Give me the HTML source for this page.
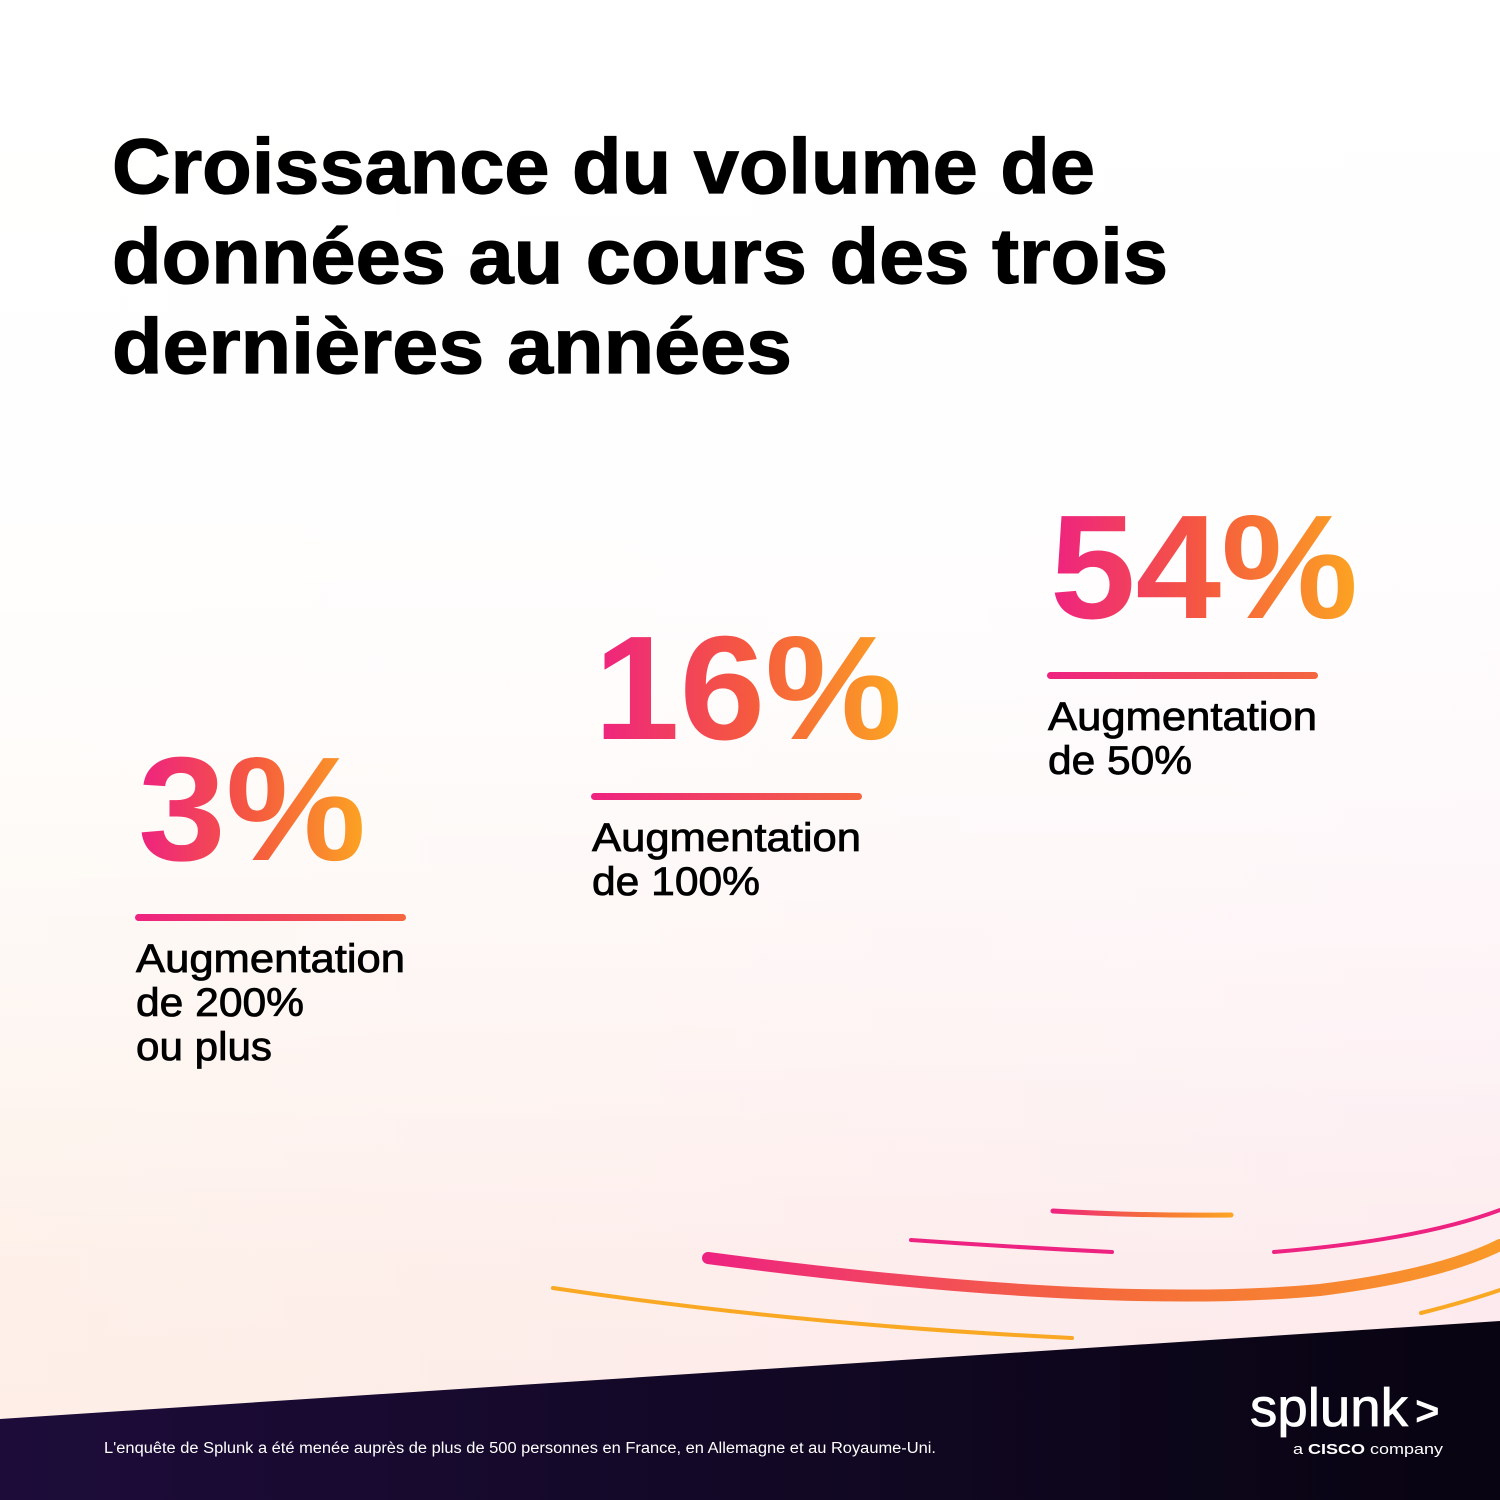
<!DOCTYPE html>
<html><head><meta charset="utf-8"><style>
html,body{margin:0;padding:0;width:1500px;height:1500px;overflow:hidden}
svg{display:block}
text{font-family:"Liberation Sans",sans-serif}
</style></head><body>
<svg id="chart" width="1500" height="1500" viewBox="0 0 1500 1500">
<defs>
<linearGradient id="bgv" x1="0" y1="0" x2="0" y2="1">
<stop offset="0" stop-color="#ffffff"/><stop offset="0.35" stop-color="#ffffff"/><stop offset="1" stop-color="#fde9e6"/>
</linearGradient>
<linearGradient id="bgh" x1="0" y1="0" x2="1" y2="0">
<stop offset="0" stop-color="#fdf0de" stop-opacity="0.8"/><stop offset="1" stop-color="#fbe0ef" stop-opacity="0.8"/>
</linearGradient>
<linearGradient id="bgfade" x1="0" y1="0" x2="0" y2="1">
<stop offset="0" stop-color="#fff" stop-opacity="1"/><stop offset="0.35" stop-color="#fff" stop-opacity="0.85"/><stop offset="0.85" stop-color="#fff" stop-opacity="0"/>
</linearGradient>
<linearGradient id="dark" x1="0" y1="0" x2="1" y2="0">
<stop offset="0" stop-color="#1d0c3a"/><stop offset="1" stop-color="#080411"/>
</linearGradient>
<linearGradient id="g" x1="0" y1="0" x2="1" y2="0">
<stop offset="0" stop-color="#ee2281"/><stop offset="0.5" stop-color="#f5593f"/><stop offset="1" stop-color="#fca522"/>
</linearGradient>
<linearGradient id="gl" x1="0" y1="0" x2="1" y2="0">
<stop offset="0" stop-color="#ee2281"/><stop offset="1" stop-color="#f4663f"/>
</linearGradient>
<linearGradient id="swoosh" gradientUnits="userSpaceOnUse" x1="705" y1="0" x2="1500" y2="0">
<stop offset="0" stop-color="#ee2281"/><stop offset="0.5" stop-color="#f56a3c"/><stop offset="1" stop-color="#f99a28"/>
</linearGradient>
<linearGradient id="short1" gradientUnits="userSpaceOnUse" x1="1052" y1="0" x2="1232" y2="0">
<stop offset="0" stop-color="#ee2281"/><stop offset="0.5" stop-color="#f56a3c"/><stop offset="1" stop-color="#fca522"/>
</linearGradient>
</defs>
<rect width="1500" height="1500" fill="url(#bgh)"/>
<rect width="1500" height="1500" fill="url(#bgv)" opacity="0.6"/>
<rect width="1500" height="1500" fill="url(#bgfade)"/>

<g font-weight="bold" font-size="78" fill="#000" stroke="#000" stroke-width="1.2">
<text x="112" y="193" textLength="983" lengthAdjust="spacingAndGlyphs">Croissance du volume de</text>
<text x="112" y="283" textLength="1056" lengthAdjust="spacingAndGlyphs">données au cours des trois</text>
<text x="112" y="373" textLength="680" lengthAdjust="spacingAndGlyphs">dernières années</text>
</g>

<g fill="none" stroke-linecap="round">
<path d="M708 1258 Q1100 1310 1320 1290 Q1440 1275 1500 1245" stroke="url(#swoosh)" stroke-width="12"/>
<path d="M1053 1211 Q1140 1216 1231 1215" stroke="url(#short1)" stroke-width="5"/>
<path d="M911 1240 Q1010 1247 1112 1252" stroke="#ee2281" stroke-width="4"/>
<path d="M1274 1252 Q1420 1240 1500 1210" stroke="#ee2281" stroke-width="4"/>
<path d="M1421 1313 Q1465 1302 1500 1290" stroke="#f9a824" stroke-width="4"/>
<path d="M553 1288 Q800 1325 1072 1338" stroke="#f9a824" stroke-width="4"/>
</g>

<path d="M0 1419 L1500 1321 L1500 1500 L0 1500 Z" fill="url(#dark)"/>
<text x="104" y="1453" font-size="15.5" fill="#fff" textLength="832" lengthAdjust="spacingAndGlyphs">L'enquête de Splunk a été menée auprès de plus de 500 personnes en France, en Allemagne et au Royaume-Uni.</text>
<g fill="#fff">
<text x="1250" y="1426" font-size="54" textLength="158" lengthAdjust="spacingAndGlyphs" stroke="#fff" stroke-width="0.8">splunk</text>
<text x="1415" y="1425" font-size="42" font-weight="bold">&gt;</text>
<text x="1293" y="1454" font-size="15" textLength="150" lengthAdjust="spacingAndGlyphs">a <tspan font-weight="bold">CISCO</tspan> company</text>
</g>

<g id="stats"></g>
</svg>
<script>
const values = [3, 16, 54];
const labelLines = [["Augmentation","de 200%","ou plus"],["Augmentation","de 100%"],["Augmentation","de 50%"]];
const NS = "http://www.w3.org/2000/svg";
const g = document.getElementById("stats");
function xPos(i){ return 135 + i * 456; }
function baseY(i){ return 860 - i * 121; }
function labelWidth(s){
  if (s === "Augmentation") return 269;
  if (s.indexOf("ou") === 0) return 136;
  return s.length * 24;
}
values.forEach((v, i) => {
  const x = xPos(i), b = baseY(i);
  const grp = document.createElementNS(NS, "g");
  
  
  const t = document.createElementNS(NS, "text");
  
  
  const s = v + "%";
  t.setAttribute("x", x + 3); t.setAttribute("y", b);
  t.setAttribute("font-size", "148"); t.setAttribute("font-weight", "bold");
  t.setAttribute("fill", "url(#g)");
  t.setAttribute("textLength", s.length === 2 ? 228 : 308);
  t.setAttribute("lengthAdjust", "spacingAndGlyphs");
  t.textContent = s;
  grp.appendChild(t);
  const r = document.createElementNS(NS, "rect");
  
  
  r.setAttribute("x", x); r.setAttribute("y", b + 54);
  r.setAttribute("width", 271); r.setAttribute("height", 7); r.setAttribute("rx", 3.5);
  r.setAttribute("fill", "url(#gl)");
  grp.appendChild(r);
  labelLines[i].forEach((line, k) => {
    const lt = document.createElementNS(NS, "text");
    
    
    lt.setAttribute("x", x + 1); lt.setAttribute("y", b + 112 + k * 44);
    lt.setAttribute("font-size", "40"); lt.setAttribute("fill", "#000");
    lt.setAttribute("stroke", "#000"); lt.setAttribute("stroke-width", "0.8");
    lt.setAttribute("textLength", labelWidth(line));
    lt.setAttribute("lengthAdjust", "spacingAndGlyphs");
    lt.textContent = line;
    grp.appendChild(lt);
  });
  g.appendChild(grp);
});
</script>
</body></html>
